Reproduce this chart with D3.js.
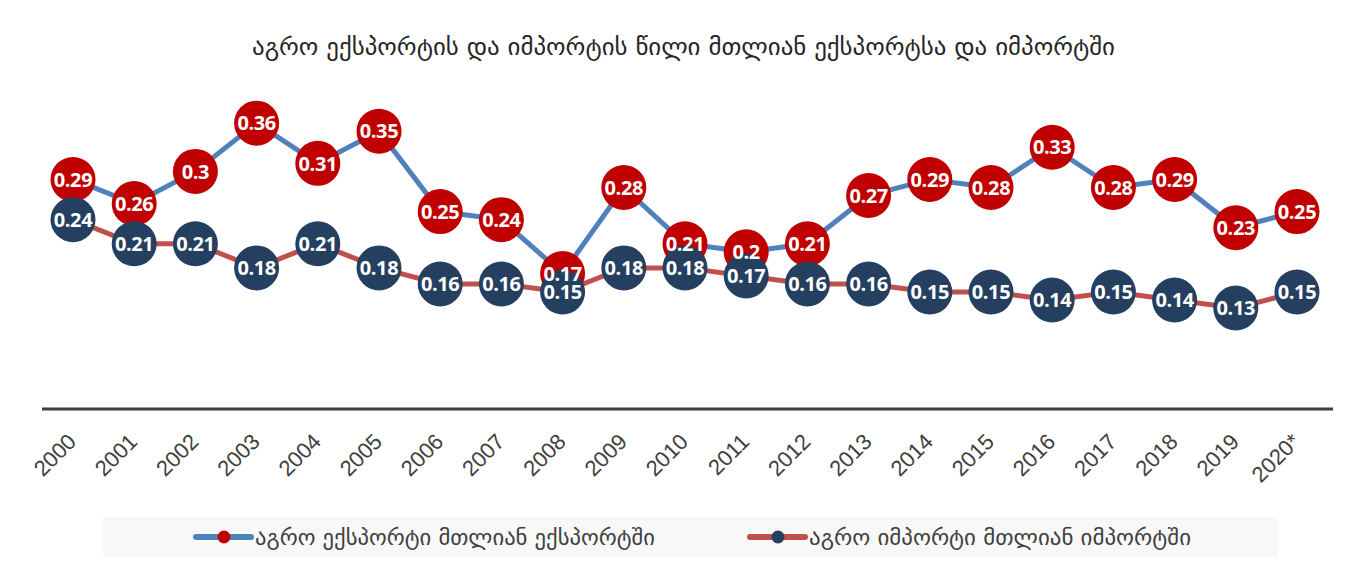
<!DOCTYPE html>
<html lang="ka">
<head>
  <meta charset="UTF-8">
  <title>აგრო ექსპორტის და იმპორტის წილი</title>
  <script src="https://d3js.org/d3.v7.min.js"></script>
  <style>
    body { margin: 0; background: #fff; }
    svg { display: block; }
    .title { font-family: "DejaVu Sans Condensed", "DejaVu Sans", sans-serif; font-size: 24px; fill: #262626; }
    .year { font-family: "Liberation Sans", Arial, sans-serif; font-size: 22px; fill: #404040; }
    .val { font-family: "Open Sans", "Noto Sans", sans-serif; font-weight: 700; font-size: 20px; fill: #fff; letter-spacing: -0.4px; }
    .legend { font-family: "DejaVu Sans Condensed", "DejaVu Sans", sans-serif; font-size: 22px; fill: #404040; }
  </style>
</head>
<body>
  <svg width="1364" height="578"></svg>

  <script>
    const years = ["2000", "2001", "2002", "2003", "2004", "2005", "2006", "2007", "2008", "2009", "2010",
                   "2011", "2012", "2013", "2014", "2015", "2016", "2017", "2018", "2019", "2020*"];
    const exportShare = [0.29, 0.26, 0.30, 0.36, 0.31, 0.35, 0.25, 0.24, 0.173, 0.28, 0.21,
                         0.20, 0.21, 0.27, 0.29, 0.28, 0.33, 0.28, 0.29, 0.23, 0.25];
    const importShare = [0.24, 0.21, 0.21, 0.18, 0.21, 0.18, 0.16, 0.16, 0.15, 0.18, 0.18,
                         0.17, 0.16, 0.16, 0.15, 0.15, 0.14, 0.15, 0.14, 0.13, 0.15];
    const titleText = "აგრო ექსპორტის და იმპორტის წილი მთლიან ექსპორტსა და იმპორტში";
    const seriesNames = ["აგრო ექსპორტი მთლიან ექსპორტში", "აგრო იმპორტი მთლიან იმპორტში"];

    const svg = d3.select("svg");

    const x = d3.scalePoint().domain(years).range([73, 1297]);
    const y = d3.scaleLinear().domain([0, 0.4]).range([412.6, 91]);
    const fmt = d3.format(".2~f");

    const series = [
      { name: seriesNames[0], values: exportShare, line: "#4f81bd", dot: "#c00000" },
      { name: seriesNames[1], values: importShare, line: "#c0504d", dot: "#243f60" }
    ];

    // title
    svg.append("text").attr("class", "title")
      .attr("x", 252).attr("y", 55)
      .attr("textLength", 863).attr("lengthAdjust", "spacingAndGlyphs")
      .text(titleText);

    // axis line + rotated year labels
    const axis = svg.append("g").attr("transform", "translate(0,409)")
      .call(d3.axisBottom(x).tickSize(0).tickPadding(0));
    axis.select(".domain").remove();
    axis.append("line").attr("x1", 42).attr("x2", 1333)
      .attr("stroke", "#404040").attr("stroke-width", 3);
    axis.selectAll(".tick text")
      .attr("class", "year")
      .attr("fill", null)
      .attr("font-family", null).attr("font-size", null)
      .attr("text-anchor", "end")
      .attr("dy", null).attr("y", 0)
      .attr("transform", "translate(4,34) rotate(-45)");

    const line = d3.line().x((d, i) => x(years[i])).y(d => y(d));

    series.forEach(s => {
      svg.append("path").datum(s.values)
        .attr("fill", "none").attr("stroke", s.line).attr("stroke-width", 5)
        .attr("d", line);
    });

    series.forEach(s => {
      svg.append("g").selectAll("circle").data(s.values).join("circle")
        .attr("cx", (d, i) => x(years[i])).attr("cy", d => y(d))
        .attr("r", 22.5).attr("fill", s.dot);
    });

    series.forEach(s => {
      svg.append("g").selectAll("text").data(s.values).join("text")
        .attr("class", "val")
        .attr("x", (d, i) => x(years[i])).attr("y", d => y(d))
        .attr("dy", "0.36em").attr("text-anchor", "middle")
        .text(d => fmt(d));
    });

    // legend
    svg.append("rect").attr("x", 103).attr("y", 517).attr("width", 1175).attr("height", 40)
      .attr("fill", "#f8f8f8");
    const legendX = [196, 750];
    const legendW = [400, 382];
    series.forEach((s, i) => {
      const g = svg.append("g").attr("transform", `translate(${legendX[i]},537)`);
      g.append("line").attr("x1", 0).attr("x2", 55)
        .attr("stroke", s.line).attr("stroke-width", 6).attr("stroke-linecap", "round");
      g.append("circle").attr("cx", 28).attr("r", 6.5).attr("fill", s.dot);
      g.append("text").attr("class", "legend").attr("x", 59).attr("y", 8)
        .attr("textLength", legendW[i]).attr("lengthAdjust", "spacingAndGlyphs")
        .text(s.name);
    });
  </script>
</body>
</html>
